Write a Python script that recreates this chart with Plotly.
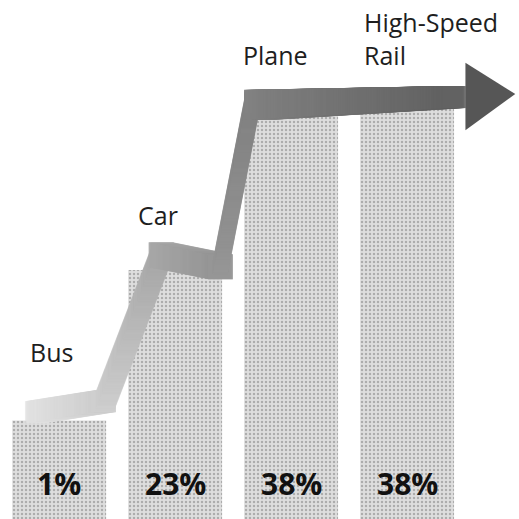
import numpy as np
import plotly.graph_objects as go

# ---- data ----
modes = ["Bus", "Car", "Plane", "High-Speed<br>Rail"]
share_pct = [1, 23, 38, 38]          # printed percentages
step_height = [19, 48, 79, 79]       # visual step heights (% of chart height)

# ---- styling ----
BAR_W = 0.81
X_RANGE = [-0.51, 3.965]
Y_RANGE = [0, 100]
W = H = 519
PX_X = W / (X_RANGE[1] - X_RANGE[0])
PX_Y = H / (Y_RANGE[1] - Y_RANGE[0])

name_dx = [-0.27, -0.34, -0.43, -0.39]
name_gap = [9.6, 7.0, 6.8, 6.8]

# arrow path hugging the bar tops: (bar index, dx, dy above top, square size px, gray level)
arrow_spec = [
    (0, -0.20, 1.6, 22, 226),
    (0, 0.395, 3.7, 22, 206),
    (0, 0.395, 3.7, 19, 206),
    (1, -0.12, 2.9, 19, 168),
    (1, -0.12, 2.9, 25, 168),
    (1, 0.39, 0.6, 25, 150),
    (1, 0.39, 0.6, 15, 150),
    (2, -0.34, 0.6, 15, 130),
    (2, -0.277, 0.8, 30, 130),
    (3, 0.413, 2.3, 22, 98),
]

x_pos = np.arange(len(modes))

fig = go.Figure()
fig.add_trace(go.Bar(
    x=x_pos, y=step_height, width=BAR_W,
    marker=dict(color="#dedede", line=dict(width=0),
                pattern=dict(shape=".", fgcolor="#7c7c7c", size=4, solidity=0.3)),
    hoverinfo="skip",
))

# sweep the arrow band
xs, ys, ss, cs = [], [], [], []
pts = [(x_pos[b] + dx, step_height[b] + dy, s, g) for b, dx, dy, s, g in arrow_spec]
for (x0, y0, s0, g0), (x1, y1, s1, g1) in zip(pts[:-1], pts[1:]):
    L = np.hypot((x1 - x0) * PX_X, (y1 - y0) * PX_Y)
    n = max(2, int(L / 1.0))
    t = np.linspace(0, 1, n)
    xs += list(x0 + (x1 - x0) * t)
    ys += list(y0 + (y1 - y0) * t)
    ss += list(s0 + (s1 - s0) * t)
    cs += [f"rgb({int(v)},{int(v)},{int(v)})" for v in (g0 + (g1 - g0) * t)]

fig.add_trace(go.Scatter(
    x=xs, y=ys, mode="markers",
    marker=dict(symbol="square", size=ss, color=cs, line=dict(width=0)),
    hoverinfo="skip",
))

# arrow head at the end of the band
ex, ey = pts[-1][0], pts[-1][1]
head_x = [ex + 0.09, ex + 0.52, ex + 0.09, ex + 0.09]
head_y = [ey + 6.6, ey + 0.6, ey - 6.4, ey + 6.6]
fig.add_trace(go.Scatter(
    x=head_x, y=head_y, mode="lines", fill="toself",
    fillcolor="rgb(86,86,86)", line=dict(width=0, color="rgb(86,86,86)"),
    hoverinfo="skip",
))

for i, name in enumerate(modes):
    fig.add_annotation(
        x=x_pos[i] + name_dx[i], y=step_height[i] + name_gap[i],
        xref="x", yref="y", xanchor="left", yanchor="bottom", align="left",
        text=name, showarrow=False,
        font=dict(family="Open Sans", size=25, color="#1e1e1e"),
    )
    fig.add_annotation(
        x=x_pos[i], y=0, xref="x", yref="y", xanchor="center", yanchor="bottom",
        yshift=13, text=f"<b>{share_pct[i]}%</b>", showarrow=False,
        font=dict(family="Open Sans", size=30, color="#111111"),
    )

fig.update_layout(
    width=W, height=H, margin=dict(l=0, r=0, t=0, b=0),
    paper_bgcolor="white", plot_bgcolor="white", showlegend=False,
    xaxis=dict(range=X_RANGE, visible=False, fixedrange=True),
    yaxis=dict(range=Y_RANGE, visible=False, fixedrange=True),
)

fig.write_html("out.html", config={"displayModeBar": False, "staticPlot": True},
               post_script="document.body.style.margin='0';document.body.style.overflow='hidden';")
